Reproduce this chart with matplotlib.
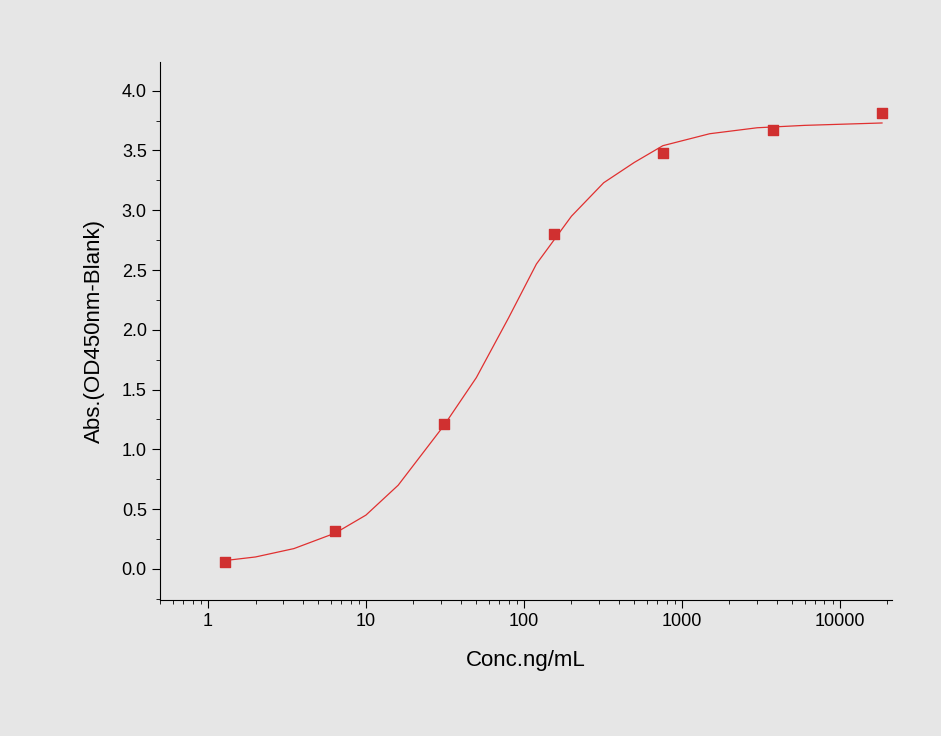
import matplotlib
matplotlib.use("Agg")
import matplotlib.pyplot as plt
from matplotlib.ticker import LogLocator, MultipleLocator, NullFormatter

plt.rcParams["font.family"] = "Liberation Sans"

conc = [1.28, 6.4, 31.2, 155, 758, 3770, 18500]
absorb = [0.06, 0.32, 1.21, 2.80, 3.48, 3.67, 3.81]
curve_x = [1.28, 2, 3.5, 6.4, 10, 16, 31.2, 50, 80, 120, 200, 320, 500, 758, 1500, 3000, 6000, 18500]
curve_y = [0.07, 0.10, 0.17, 0.30, 0.45, 0.70, 1.20, 1.60, 2.10, 2.55, 2.95, 3.23, 3.40, 3.54, 3.64, 3.69, 3.71, 3.73]

bg = "#e6e6e6"
fig = plt.figure(figsize=(9.41, 7.36), dpi=100, facecolor=bg)
ax = fig.add_axes([160/941, 1-600/736, (892-160)/941, (600-62)/736], facecolor=bg)
ax.plot(curve_x, curve_y, color="#e03030", lw=0.9)
ax.scatter(conc, absorb, marker="s", s=45, color="#d03030", zorder=3)
ax.set_xscale("log")
ax.set_xlim(0.497, 21400)
ax.set_ylim(-0.26, 4.24)
ax.yaxis.set_major_locator(MultipleLocator(0.5))
ax.yaxis.set_minor_locator(MultipleLocator(0.25))
ax.xaxis.set_minor_locator(LogLocator(base=10, subs=range(2, 10), numticks=20))
ax.xaxis.set_minor_formatter(NullFormatter())
ax.set_xticks([1, 10, 100, 1000, 10000])
ax.set_xticklabels(["1", "10", "100", "1000", "10000"])
ax.set_yticklabels([f"{v:.1f}" for v in ax.get_yticks()])
for s in ["top", "right"]:
    ax.spines[s].set_visible(False)
ax.tick_params(labelsize=13, direction="out", length=6)
ax.tick_params(which="minor", length=3)
ax.set_xlabel("Conc.ng/mL", fontsize=16, labelpad=14)
ax.set_ylabel("Abs.(OD450nm-Blank)", fontsize=16, labelpad=12)
fig.savefig("out.png", dpi=100, facecolor=bg)
